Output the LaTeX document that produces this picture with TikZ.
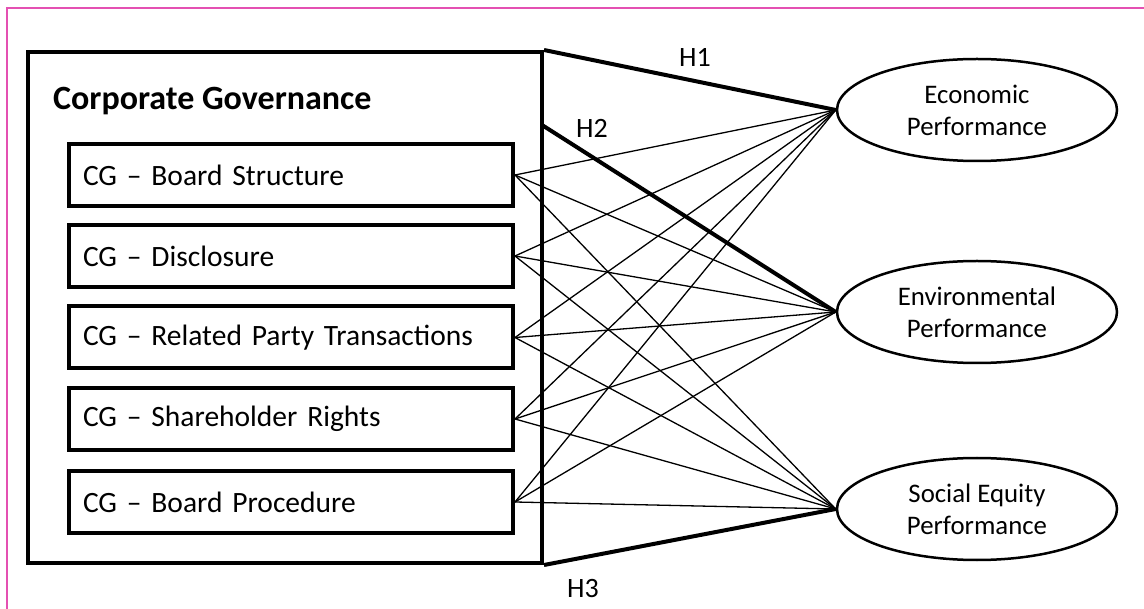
\documentclass[tikz,border=0pt]{standalone}
\usepackage{fontspec}
\setmainfont{Carlito}
\usetikzlibrary{shapes.geometric}
\definecolor{framepink}{RGB}{228,80,178}
\begin{document}
\begin{tikzpicture}[x=1pt,y=-1pt,
  pageframe/.style={draw=framepink, line width=1.4pt},
  outerbox/.style={draw, line width=4pt, inner sep=0pt},
  cgbox/.style={draw, line width=4pt, minimum height=62pt, text width=416pt,
    inner xsep=14pt, align=left, font=\fontsize{29.5}{34}\selectfont},
  perf/.style={ellipse, draw, line width=2.5pt, minimum width=280pt,
    minimum height=102pt, inner sep=0pt, align=center,
    font=\fontsize{26.8}{32}\selectfont},
  link/.style={line width=1.3pt},
  hyp/.style={line width=4pt},
  hlabel/.style={font=\fontsize{28}{32}\selectfont, inner sep=0pt}
]
\useasboundingbox (0,0) rectangle (1144,609);
\draw[pageframe] (7,609) -- (7,8) -- (1144,8);

% corporate governance block
\node[outerbox, minimum width=514pt, minimum height=511pt] (cg) at (285,307.5) {};
\node[anchor=base west, inner sep=0pt, font=\bfseries\fontsize{34}{40}\selectfont]
  (title) at (53,110) {Corporate Governance};

\node[cgbox] (b1) at (291,175) {CG – Board Structure};
\node[cgbox] (b2) at (291,256) {CG – Disclosure};
\node[cgbox] (b3) at (291,337.5) {CG – Related Party Transactions};
\node[cgbox] (b4) at (291,419) {CG – Shareholder Rights};
\node[cgbox] (b5) at (291,502) {CG – Board Procedure};

% performance constructs
\node[perf] (econ) at (977,110) {Economic\\Performance};
\node[perf] (env) at (977,312) {Environmental\\Performance};
\node[perf] (soc) at (977,509) {Social Equity\\Performance};

% dimension-level paths
\foreach \b in {b1,b2,b3,b4,b5}
  \foreach \e in {econ,env,soc}
    \draw[link] (\b.east) -- (\e.west);

% hypothesis paths
\coordinate (h2start) at (542,125);
\draw[hyp] (cg.north east) -- (econ.west);
\draw[hyp] (h2start) -- (env.west);
\draw[hyp] (cg.south east) -- (soc.west);

\node[hlabel] (h1) at (695,57) {H1};
\node[hlabel] (h2) at (592,128) {H2};
\node[hlabel] (h3) at (583,589) {H3};
\end{tikzpicture}
\end{document}
